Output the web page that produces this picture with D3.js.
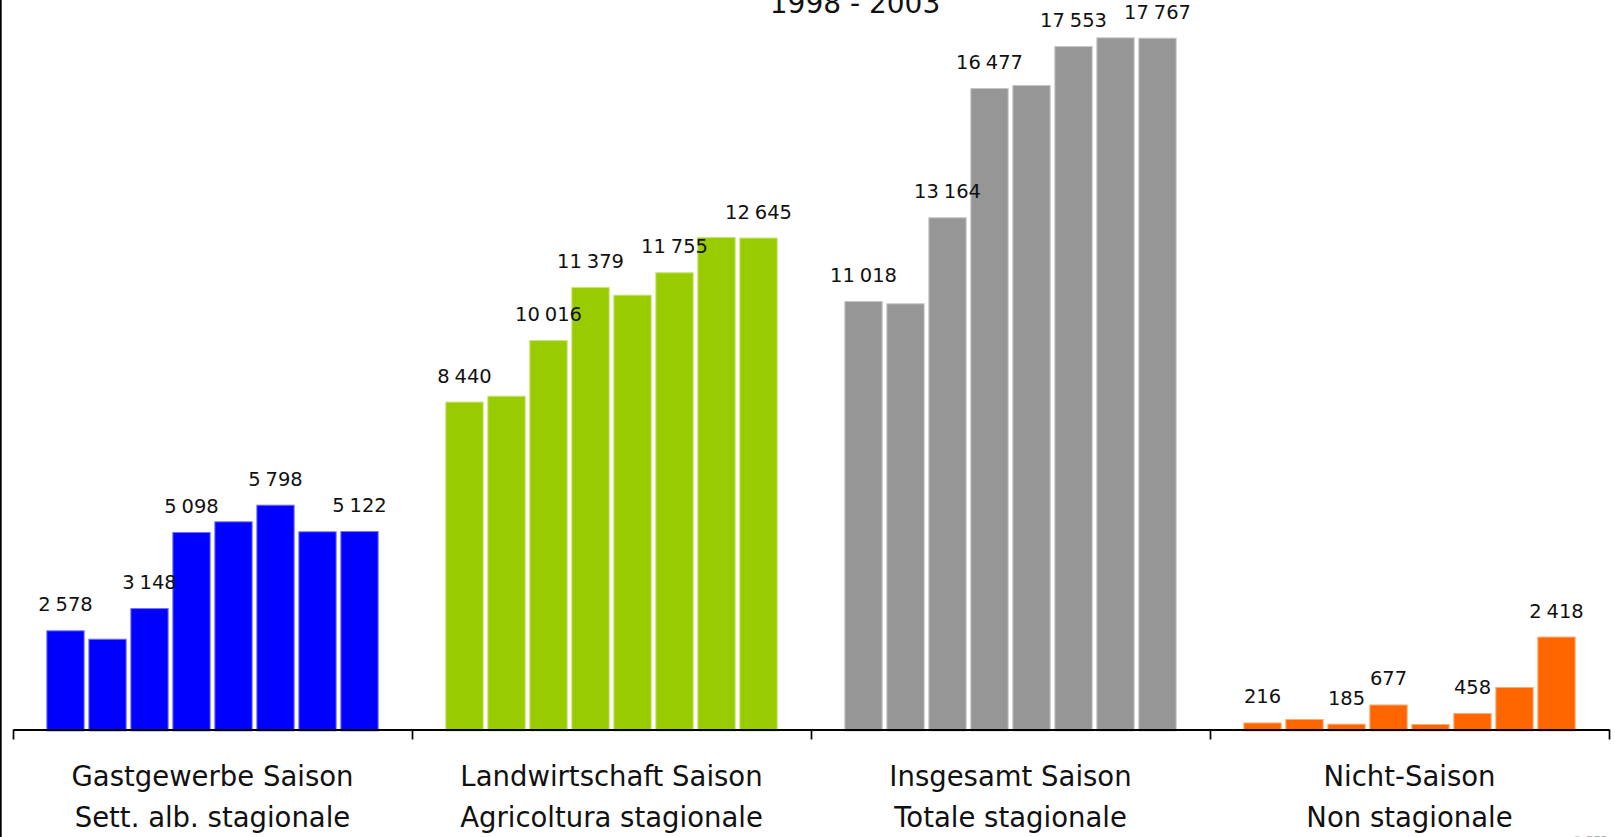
<!DOCTYPE html>
<html>
<head>
<meta charset="utf-8">
<script src="https://cdn.jsdelivr.net/npm/d3@7"></script>
<style>
  body { margin: 0; background: #fff; }
  svg { display: block; font-family: "DejaVu Sans", sans-serif; }
</style>
</head>
<body>
<svg width="1615" height="837"></svg>
<script>
// data
const periods = ['p1', 'p2', 'p3', 'p4', 'p5', 'p6', 'p7', 'p8'];
const groupsDe = ['Gastgewerbe Saison', 'Landwirtschaft Saison', 'Insgesamt Saison', 'Nicht-Saison'];
const groupsIt = ['Sett. alb. stagionale', 'Agricoltura stagionale', 'Totale stagionale', 'Non stagionale'];
const gastgewerbe = [2578, 2363, 3148, 5098, 5372, 5798, 5116, 5122];
const landwirtschaft = [8440, 8591, 10016, 11379, 11180, 11755, 12660, 12645];
const insgesamt = [11018, 10960, 13164, 16477, 16555, 17553, 17776, 17767];
const nichtSaison = [216, 305, 185, 677, 177, 458, 1125, 2418];
const labelled = [0, 2, 3, 5, 7]; // bars that carry a value label
const colors = ['#0000ff', '#99cc00', '#969696', '#ff6600'];
const title = '1998 - 2003';

const series = [gastgewerbe, landwirtschaft, insgesamt, nichtSaison];

const svg = d3.select('svg');

// scales
const x0 = d3.scaleBand()
  .domain(groupsDe)
  .range([13, 1609]);

const x1 = d3.scaleBand()
  .domain(periods)
  .range([0, x0.bandwidth()])
  .paddingInner(0.088)
  .paddingOuter(0.794);

const y = d3.scaleLinear()
  .domain([0, 18000])
  .range([730.9, 28.6]);

// swiss style grouping with a narrow space
const fmt = d3.formatLocale({ decimal: '.', thousands: '\u2005', grouping: [3], currency: ['', ''] }).format(',d');

// left border line
svg.append('line')
  .attr('x1', 0.85).attr('x2', 0.85)
  .attr('y1', 0).attr('y2', 837)
  .attr('stroke', '#000')
  .attr('stroke-width', 1.7);

// title (top part is cut off in the original)
svg.append('text')
  .attr('x', 855)
  .attr('y', 12.5)
  .attr('text-anchor', 'middle')
  .attr('font-size', 28)
  .attr('fill', '#111')
  .text(title);

// one g per category
const groups = svg.selectAll('g.grp')
  .data(series)
  .enter()
  .append('g')
    .attr('class', 'grp')
    .attr('transform', (d, i) => `translate(${x0(groupsDe[i])},0)`);

groups.each(function(vals, gi) {
  const g = d3.select(this);
  const fill = colors[gi];
  const edge = d3.interpolateRgb(fill, '#fff')(0.45);

  g.selectAll('rect')
    .data(vals)
    .enter()
    .append('rect')
      .attr('x', (d, i) => x1(periods[i]) + 0.5)
      .attr('y', d => y(d) + 0.5)
      .attr('width', x1.bandwidth() - 1)
      .attr('height', d => y(0) - y(d) - 0.5)
      .attr('fill', fill)
      .attr('stroke', edge)
      .attr('stroke-width', 1);

  g.selectAll('text.val')
    .data(labelled)
    .enter()
    .append('text')
      .attr('class', 'val')
      .attr('x', i => x1(periods[i]) + x1.bandwidth() / 2)
      .attr('y', i => y(vals[i]) - 19)
      .attr('text-anchor', 'middle')
      .attr('font-size', 19.5)
      .attr('fill', '#111')
      .text(i => fmt(vals[i]));
});

// axis with ticks at the group boundaries
const xb = d3.scaleLinear().domain([0, 4]).range([13, 1609]);
const axis = svg.append('g')
  .attr('transform', 'translate(0,729.5)')
  .call(d3.axisBottom(xb).tickValues([0, 1, 2, 3, 4]).tickSize(10).tickSizeOuter(0).tickFormat(''));
axis.select('.domain').attr('stroke', '#000').attr('stroke-width', 2);
axis.selectAll('.tick line').attr('stroke', '#000').attr('stroke-width', 1.7);

// category labels, two languages
const cats = svg.selectAll('text.cat')
  .data(groupsDe)
  .enter()
  .append('text')
    .attr('class', 'cat')
    .attr('text-anchor', 'middle')
    .attr('font-size', 27.5)
    .attr('fill', '#111');

cats.append('tspan')
  .attr('x', d => x0(d) + x0.bandwidth() / 2)
  .attr('y', 786)
  .text(d => d);

cats.append('tspan')
  .attr('x', d => x0(d) + x0.bandwidth() / 2)
  .attr('y', 827)
  .text((d, i) => groupsIt[i]);

// source note, mostly below the picture edge
svg.append('text')
  .attr('x', 1607)
  .attr('y', 844)
  .attr('text-anchor', 'end')
  .attr('font-size', 11)
  .attr('fill', '#aaa')
  .text('© BFS');
</script>
</body>
</html>
